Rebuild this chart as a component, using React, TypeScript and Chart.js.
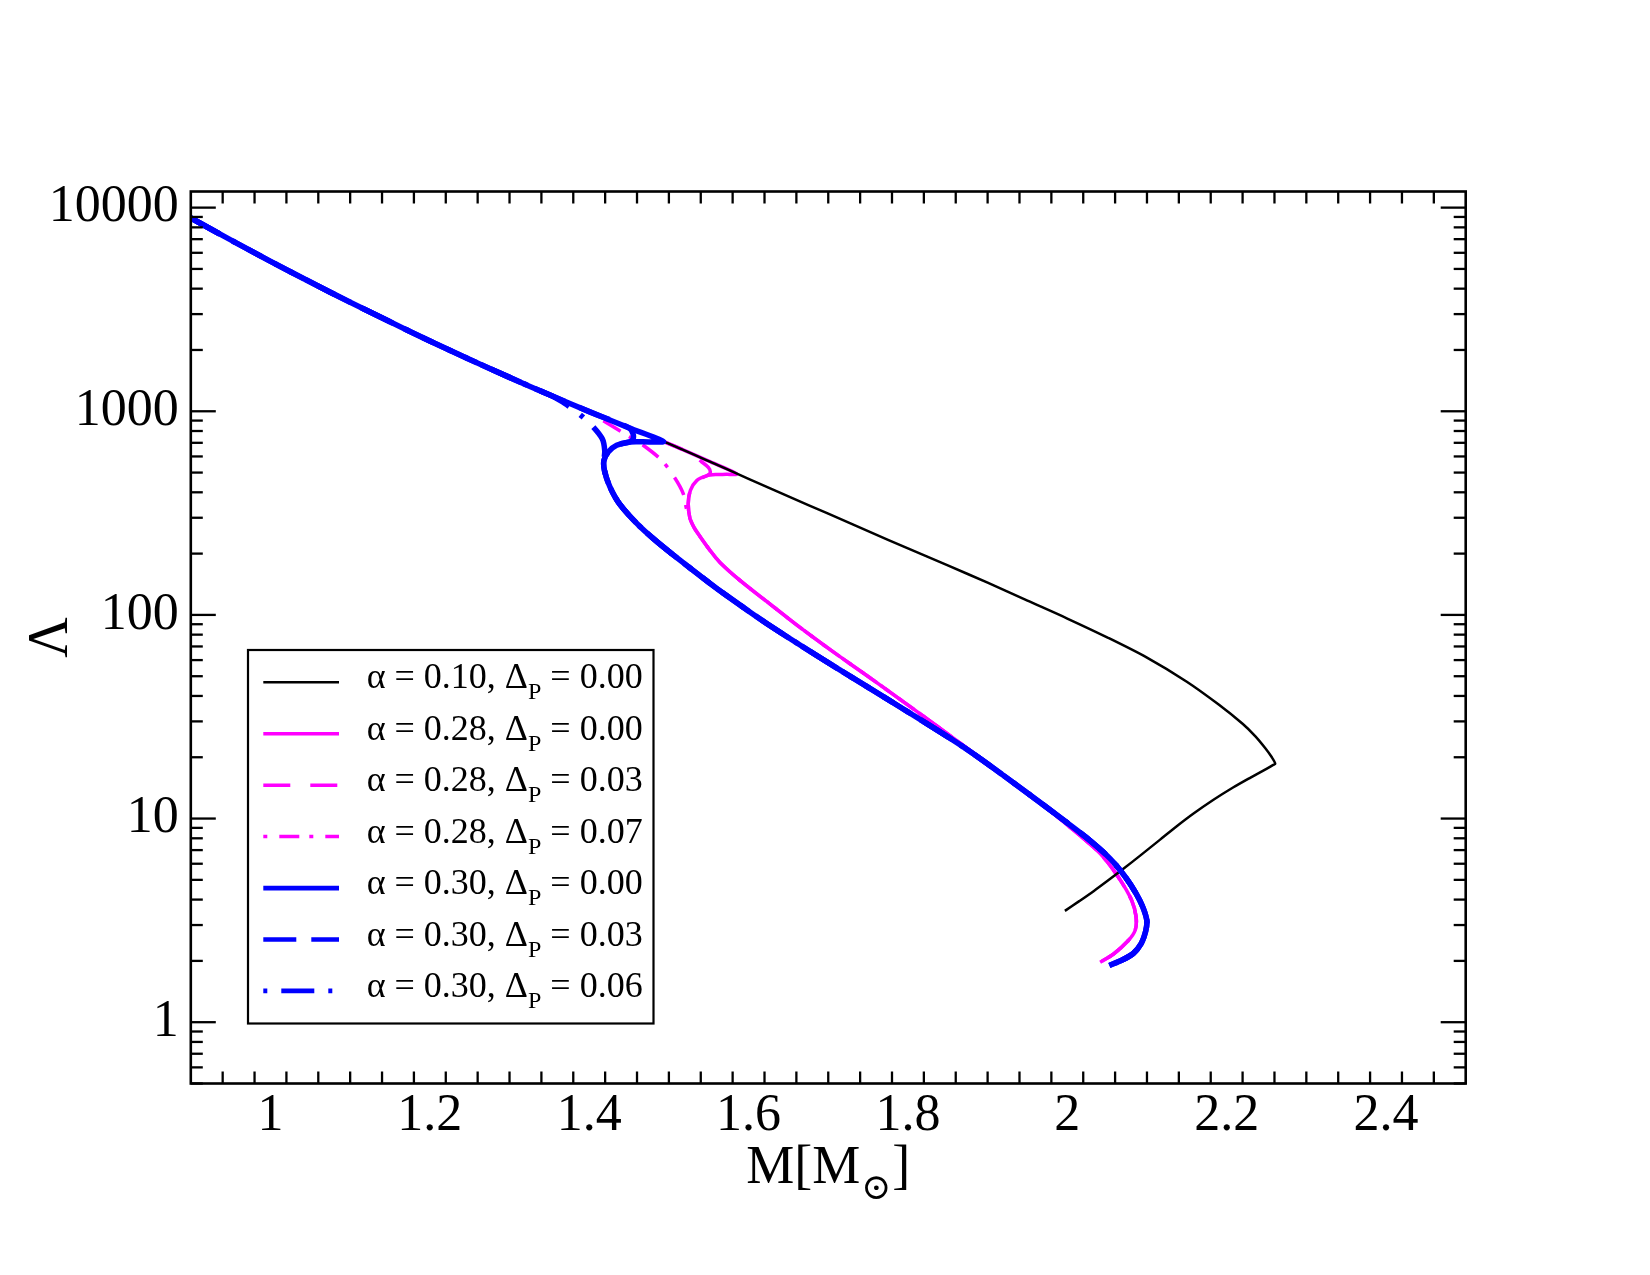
import React, { useEffect, useRef } from "react";
import { Chart, registerables } from "chart.js";

Chart.register(...registerables);

const FONT = "'Liberation Serif', 'DejaVu Serif', serif";

// Hadronic branch shared by every parameter set: mass M [M_sun] and tidal deformability Λ
const hadronicM = [0.9, 0.95, 1.0, 1.05, 1.1, 1.15, 1.2, 1.25, 1.3, 1.35, 1.4, 1.45, 1.493];
const hadronicL = [8890, 6940, 5450, 4310, 3430, 2750, 2215, 1797, 1467, 1204, 996, 829, 711];

// α = 0.10: stays hadronic up to its maximum mass, then bends back
const alpha010M = [1.55, 1.6, 1.65, 1.7, 1.75, 1.8, 1.85, 1.9, 1.95, 2.0, 2.05, 2.1, 2.15, 2.19, 2.22, 2.2358, 2.2483, 2.2565, 2.261, 2.2585, 2.2505, 2.23, 2.208, 2.183, 2.158, 2.137, 2.1165, 2.093, 2.07, 2.051, 2.033, 2.015, 1.997];
const alpha010L = [569, 466, 382, 314, 258, 212, 175, 144, 117.5, 96, 77.6, 61.7, 47, 36.3, 29.2, 25.4, 22.2, 20.05, 18.6, 18.34, 17.6, 15.9, 14.2, 12.33, 10.55, 9.14, 7.88, 6.65, 5.65, 4.96, 4.4, 3.93, 3.52];

// α = 0.28: departures from the hadronic branch and the common hybrid branch
const alpha028TopM = [1.55, 1.585, 1.572, 1.56, 1.5474];
const alpha028TopL = [569, 493, 490, 489, 482];
const alpha028Gap003M = [1.525, 1.541, 1.5495, 1.552, 1.5474];
const alpha028Gap003L = [627, 565, 530, 500, 482];
const alpha028Gap007M = [1.4176, 1.451, 1.4678, 1.491, 1.5075, 1.518, 1.522];
const alpha028Gap007L = [900, 748, 681, 574, 470, 394, 333];
const alpha028TurnM = [1.5352, 1.527, 1.5243, 1.5264];
const alpha028TurnL = [458, 409, 353, 298];
const alpha028HybridM = [1.5315, 1.539, 1.5516, 1.5641, 1.5892, 1.6227, 1.6645, 1.7063, 1.7483, 1.7901, 1.8319, 1.8738, 1.9156, 1.9574, 1.9994, 2.0412, 2.0642, 2.081, 2.0864, 2.0851, 2.0763, 2.0579, 2.0412];
const alpha028HybridL = [269, 243, 207.5, 181, 147.7, 116.5, 86.8, 65.8, 50.4, 38.5, 29.3, 22.2, 16.8, 12.7, 9.34, 6.73, 5.15, 3.95, 3.27, 2.82, 2.51, 2.16, 1.97];

// α = 0.30: departures from the hadronic branch and the common hybrid branch
const alpha030TopM = [1.4762, 1.4511, 1.4344];
const alpha030TopL = [707, 707, 681];
const alpha030Gap003M = [1.45, 1.455, 1.455, 1.4511, 1.4344];
const alpha030Gap003L = [829, 775, 730, 707, 681];
const alpha030Gap006M = [1.355, 1.3695, 1.386, 1.401, 1.4163, 1.4195];
const alpha030Gap006L = [1180, 1092, 980, 871, 734, 640];
const alpha030TurnM = [1.4239, 1.4185, 1.4191];
const alpha030TurnL = [631, 574, 513];
const alpha030HybridM = [1.426, 1.4385, 1.4636, 1.4972, 1.5389, 1.5599, 1.6227, 1.7063, 1.7901, 1.8738, 1.9574, 1.9994, 2.0286, 2.0537, 2.0725, 2.0864, 2.0951, 2.0998, 2.0983, 2.0927, 2.0826, 2.0688, 2.0528];
const alpha030HybridL = [425, 349, 272, 209, 156, 135, 90.8, 56.2, 35.3, 21.9, 12.7, 9.56, 7.8, 6.36, 5.19, 4.28, 3.65, 3.15, 2.79, 2.43, 2.17, 2.02, 1.9];

// Legend entries
const alphaLabels = ["0.10", "0.28", "0.28", "0.28", "0.30", "0.30", "0.30"];
const deltaLabels = ["0.00", "0.00", "0.03", "0.07", "0.00", "0.03", "0.06"];

// Axis ticks
const xTickValues = [1, 1.2, 1.4, 1.6, 1.8, 2, 2.2, 2.4];
const yTickValues = [1, 10, 100, 1000, 10000];
const X_MIN = 0.9;
const X_MAX = 2.5;
const Y_MIN = 0.5;
const Y_MAX = 12000;

type Pt = { x: number; y: number };

function pts(ms: number[], ls: number[]): Pt[] {
  return ms.map((m, i) => ({ x: m, y: ls[i] }));
}
function hadronicUpTo(count: number): Pt[] {
  return pts(hadronicM.slice(0, count), hadronicL.slice(0, count));
}

const MAGENTA = "#ff00ff";
const BLUE = "#0000ff";

const seriesStyles = [
  { color: "#000000", width: 2.5, dash: [] as number[], legendOffset: 0, order: 1 },
  { color: MAGENTA, width: 3.5, dash: [], legendOffset: 0, order: 2 },
  { color: MAGENTA, width: 3.5, dash: [27, 20], legendOffset: 0, order: 2 },
  { color: MAGENTA, width: 3.5, dash: [20, 10, 4, 12], legendOffset: 30, order: 2 },
  { color: BLUE, width: 5.5, dash: [], legendOffset: 0, order: 0 },
  { color: BLUE, width: 5.5, dash: [33, 15], legendOffset: 0, order: 0 },
  { color: BLUE, width: 5.5, dash: [33, 14, 4, 14], legendOffset: 47, order: 0 },
];

function buildSeries(): Pt[][] {
  const all = hadronicM.length;
  const hyb028 = pts(alpha028HybridM, alpha028HybridL);
  const hyb030 = pts(alpha030HybridM, alpha030HybridL);
  return [
    [...hadronicUpTo(all), ...pts(alpha010M, alpha010L)],
    [...hadronicUpTo(all), ...pts(alpha028TopM, alpha028TopL), ...pts(alpha028TurnM, alpha028TurnL), ...hyb028],
    [...hadronicUpTo(all), ...pts(alpha028Gap003M, alpha028Gap003L), ...pts(alpha028TurnM, alpha028TurnL), ...hyb028],
    [
      ...hadronicUpTo(11),
      ...pts(alpha028Gap007M, alpha028Gap007L),
      ...pts(alpha028TurnM.slice(3), alpha028TurnL.slice(3)),
      ...hyb028,
    ],
    [...hadronicUpTo(all), ...pts(alpha030TopM, alpha030TopL), ...pts(alpha030TurnM, alpha030TurnL), ...hyb030],
    [...hadronicUpTo(11), ...pts(alpha030Gap003M, alpha030Gap003L), ...pts(alpha030TurnM, alpha030TurnL), ...hyb030],
    [
      ...hadronicUpTo(10),
      ...pts(alpha030Gap006M, alpha030Gap006L),
      ...pts(alpha030TurnM.slice(1), alpha030TurnL.slice(1)),
      ...hyb030,
    ],
  ];
}

// Inward tick marks on all four sides plus the frame
const framePlugin = {
  id: "frameTicks",
  afterDatasetsDraw(chart: any) {
    const { ctx, chartArea } = chart;
    const { left, right, top, bottom } = chartArea;
    const xs = chart.scales.x;
    const ys = chart.scales.y;
    const major = 25;
    const minor = 12;
    ctx.save();
    ctx.strokeStyle = "#000";
    ctx.setLineDash([]);
    ctx.lineWidth = 2.3;
    ctx.lineCap = "butt";
    const seg = (x1: number, y1: number, x2: number, y2: number) => {
      ctx.beginPath();
      ctx.moveTo(x1, y1);
      ctx.lineTo(x2, y2);
      ctx.stroke();
    };
    // x: major every 0.2, minor every 0.04
    for (let k = 1; k * 0.04 + X_MIN < X_MAX - 1e-9; k++) {
      const v = X_MIN + k * 0.04;
      const isMajor = xTickValues.some((t) => Math.abs(t - v) < 1e-6);
      const px = xs.getPixelForValue(v);
      const len = isMajor ? major : minor;
      seg(px, bottom, px, bottom - len);
      seg(px, top, px, top + len);
    }
    // y: decades major, 2..9 minor
    for (let e = -1; e <= 4; e++) {
      for (let m = 1; m <= 9; m++) {
        const v = m * Math.pow(10, e);
        if (v < Y_MIN || v > Y_MAX) continue;
        const py = ys.getPixelForValue(v);
        const len = m === 1 ? major : minor;
        seg(left, py, left + len, py);
        seg(right, py, right - len, py);
      }
    }
    ctx.lineWidth = 2.6;
    ctx.strokeRect(left, top, right - left, bottom - top);
    ctx.restore();
  },
};

// Axis titles and the legend (subscripts need separate text runs)
const annotationPlugin = {
  id: "titlesLegend",
  afterDraw(chart: any) {
    const { ctx, chartArea } = chart;
    const { left, right, top, bottom } = chartArea;
    ctx.save();
    ctx.fillStyle = "#000";
    ctx.textBaseline = "alphabetic";

    // x title: M[M⊙]
    const mainFont = `54px ${FONT}`;
    const subFont = `36px ${FONT}`;
    ctx.font = mainFont;
    const wA = ctx.measureText("M[M").width;
    const wC = ctx.measureText("]").width;
    ctx.font = subFont;
    const wB = ctx.measureText("\u2299").width + 2;
    const total = wA + wB + wC;
    const x0 = (left + right) / 2 - total / 2;
    const base = bottom + 99;
    ctx.font = mainFont;
    ctx.textAlign = "left";
    ctx.fillText("M[M", x0, base);
    ctx.font = subFont;
    ctx.fillText("\u2299", x0 + wA + 1, base + 16);
    ctx.font = mainFont;
    ctx.fillText("]", x0 + wA + wB, base);

    // y title: Λ
    ctx.save();
    ctx.translate(52, (top + bottom) / 2);
    ctx.rotate(-Math.PI / 2);
    ctx.textAlign = "center";
    ctx.textBaseline = "middle";
    ctx.font = `56px ${FONT}`;
    ctx.fillText("\u039B", 0, 0);
    ctx.restore();

    // Legend box
    const lx = left + 57.2;
    const ly = top + 458.5;
    const lw = 405.5;
    const lh = 373.5;
    ctx.fillStyle = "#fff";
    ctx.fillRect(lx, ly, lw, lh);
    ctx.strokeStyle = "#000";
    ctx.lineWidth = 2.2;
    ctx.setLineDash([]);
    ctx.strokeRect(lx, ly, lw, lh);

    const datasets = chart.data.datasets;
    datasets.forEach((ds: any, i: number) => {
      const style = seriesStyles[i];
      const baseline = ly + 38.3 + i * 51.44;
      const lineY = baseline - 6;
      ctx.save();
      ctx.strokeStyle = ds.borderColor;
      ctx.lineWidth = Math.min(ds.borderWidth, 4.7);
      ctx.lineCap = "butt";
      ctx.setLineDash(style.dash);
      ctx.lineDashOffset = style.legendOffset;
      ctx.beginPath();
      ctx.moveTo(lx + 15.3, lineY);
      ctx.lineTo(lx + 91, lineY);
      ctx.stroke();
      ctx.restore();

      ctx.fillStyle = "#000";
      ctx.textAlign = "left";
      ctx.textBaseline = "alphabetic";
      let tx = lx + 118.7;
      ctx.font = `36px ${FONT}`;
      const head = `\u03B1 = ${alphaLabels[i]}, \u0394`;
      ctx.fillText(head, tx, baseline);
      tx += ctx.measureText(head).width;
      ctx.font = `24px ${FONT}`;
      ctx.fillText("P", tx, baseline + 11);
      tx += ctx.measureText("P").width;
      ctx.font = `36px ${FONT}`;
      ctx.fillText(` = ${deltaLabels[i]}`, tx, baseline);
    });
    ctx.restore();
  },
};

export default function App() {
  const canvasRef = useRef<HTMLCanvasElement | null>(null);

  useEffect(() => {
    const canvas = canvasRef.current;
    if (!canvas) return;
    const series = buildSeries();
    const datasets = series.map((data, i) => {
      const s = seriesStyles[i];
      return {
        label: `\u03B1 = ${alphaLabels[i]}, \u0394P = ${deltaLabels[i]}`,
        data,
        showLine: true,
        borderColor: s.color,
        backgroundColor: s.color,
        borderWidth: s.width,
        borderDash: s.dash,
        borderCapStyle: "butt",
        borderJoinStyle: "round",
        pointRadius: 0,
        pointHoverRadius: 0,
        tension: 0.3,
        fill: false,
        order: s.order,
      };
    });

    const chart = new Chart(canvas, {
      type: "scatter",
      data: { datasets } as any,
      options: {
        animation: false,
        responsive: false,
        maintainAspectRatio: false,
        devicePixelRatio: 1,
        events: [],
        layout: { padding: { left: 0, top: 191.5, right: 184.3, bottom: 0 } },
        plugins: {
          legend: { display: false },
          tooltip: { enabled: false },
          title: { display: false },
        },
        scales: {
          x: {
            type: "linear",
            min: X_MIN,
            max: X_MAX,
            grid: { display: false, drawTicks: false },
            border: { display: false },
            afterFit: (scale: any) => {
              scale.height = 191.5;
            },
            afterBuildTicks: (scale: any) => {
              scale.ticks = xTickValues.map((v) => ({ value: v }));
            },
            ticks: {
              autoSkip: false,
              maxRotation: 0,
              minRotation: 0,
              padding: 6.5,
              color: "#000",
              font: { family: FONT, size: 52, lineHeight: 1 },
              callback: (v: any) => String(Number(Number(v).toFixed(1))),
            },
          },
          y: {
            type: "logarithmic",
            min: Y_MIN,
            max: Y_MAX,
            grid: { display: false, drawTicks: false },
            border: { display: false },
            afterFit: (scale: any) => {
              scale.width = 190.8;
            },
            afterBuildTicks: (scale: any) => {
              scale.ticks = yTickValues.map((v) => ({ value: v, major: true }));
            },
            ticks: {
              autoSkip: false,
              padding: 12,
              color: "#000",
              font: { family: FONT, size: 52, lineHeight: 1 },
              callback: (v: any) => String(v),
            },
          },
        },
      } as any,
      plugins: [framePlugin, annotationPlugin],
    });
    return () => chart.destroy();
  }, []);

  return (
    <div style={{ position: "absolute", left: 0, top: 0, width: 1650, height: 1275, background: "#fff" }}>
      <canvas ref={canvasRef} width={1650} height={1275} style={{ display: "block", width: 1650, height: 1275 }} />
    </div>
  );
}
